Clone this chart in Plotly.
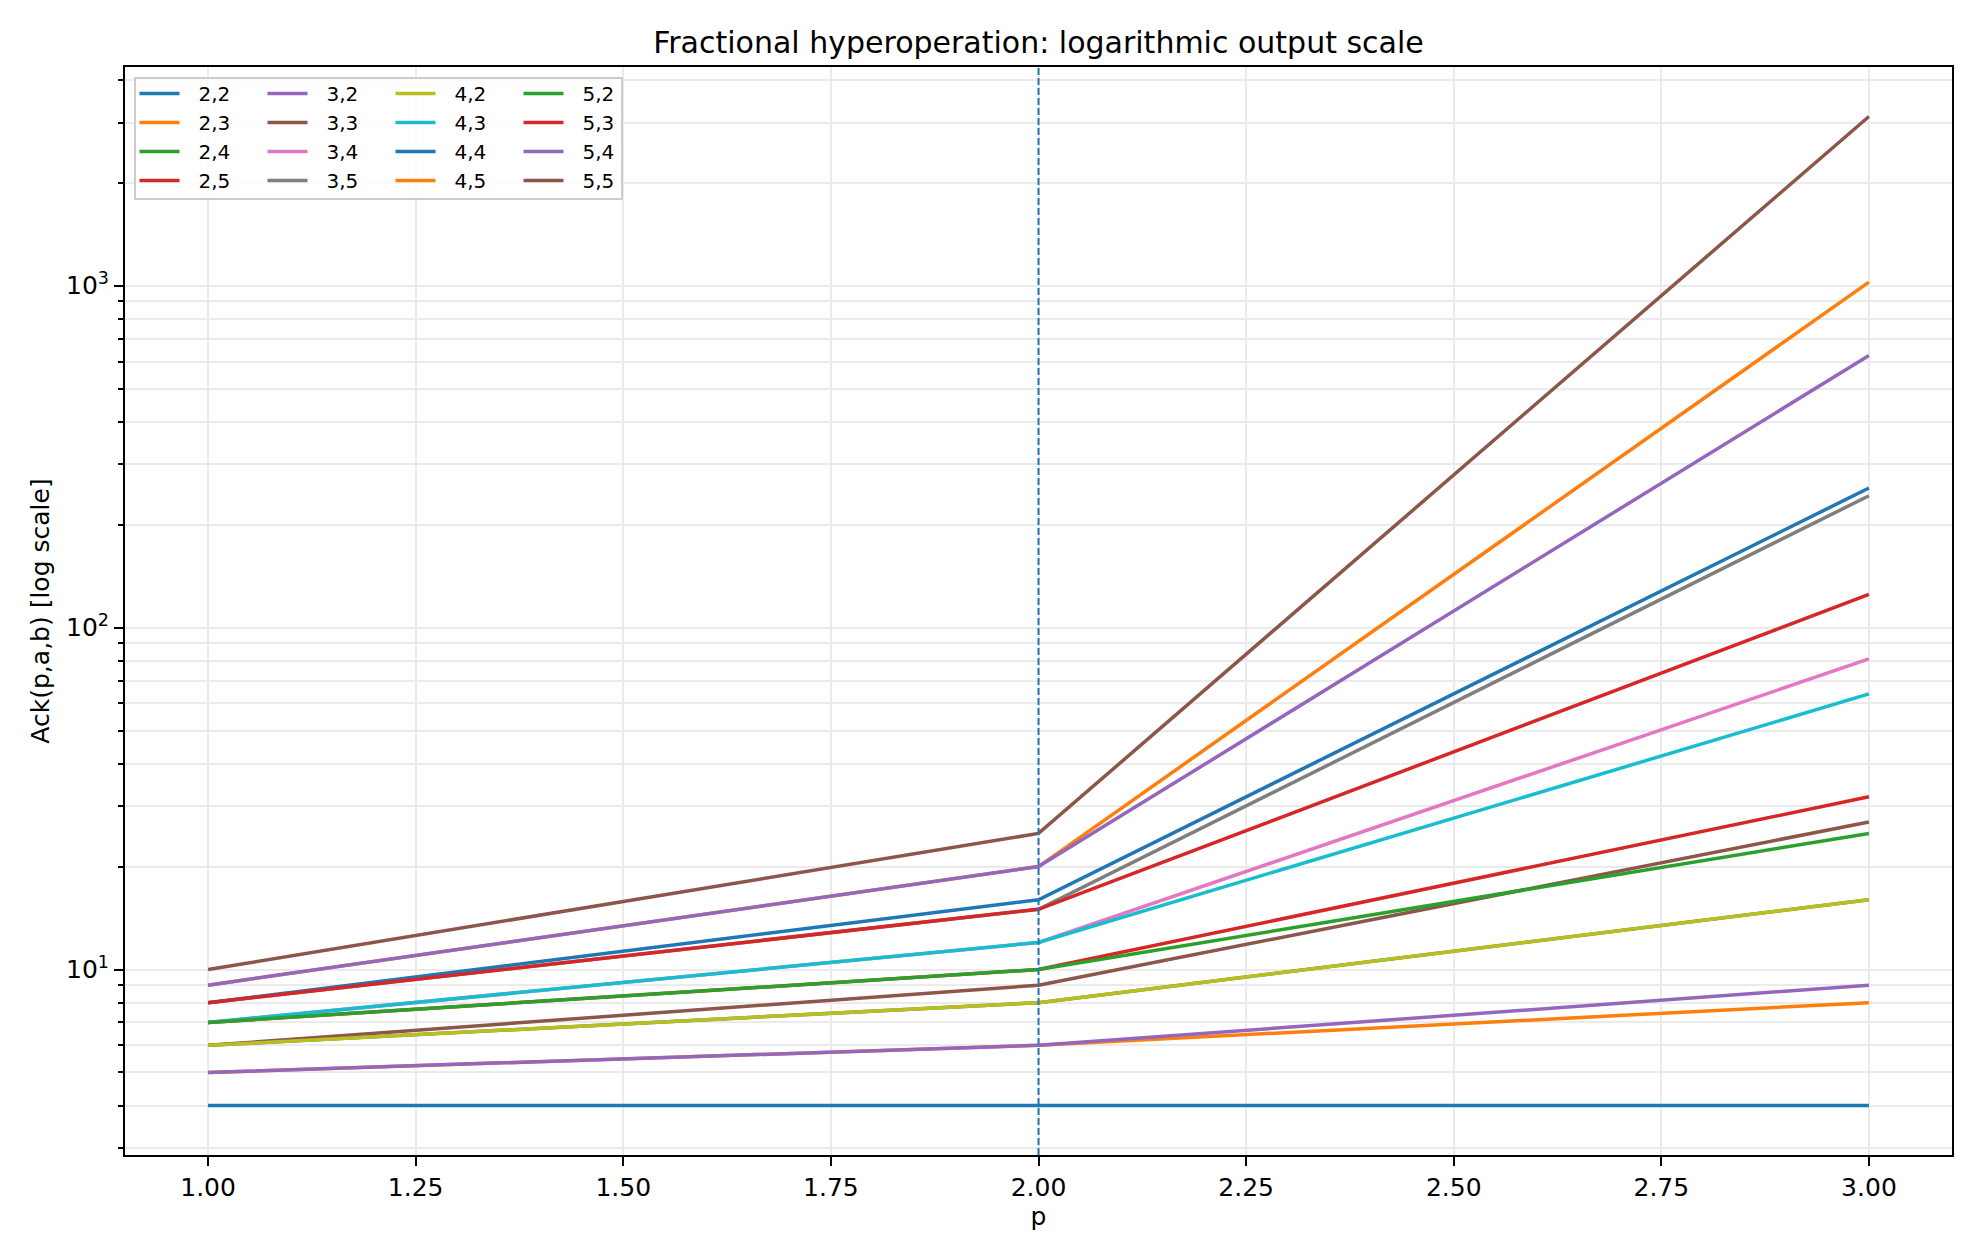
import plotly.graph_objects as go

# Ack(p, a, b) sampled at p = 1 (a+b), p = 2 (a*b), p = 3 (a^b)
p_values = [1.0, 2.0, 3.0]
pair_labels = ['2,2', '2,3', '2,4', '2,5',
               '3,2', '3,3', '3,4', '3,5',
               '4,2', '4,3', '4,4', '4,5',
               '5,2', '5,3', '5,4', '5,5']
add_values = [4, 5, 6, 7, 5, 6, 7, 8, 6, 7, 8, 9, 7, 8, 9, 10]
mul_values = [4, 6, 8, 10, 6, 9, 12, 15, 8, 12, 16, 20, 10, 15, 20, 25]
pow_values = [4, 8, 16, 32, 9, 27, 81, 243, 16, 64, 256, 1024, 25, 125, 625, 3125]
minor_ticks = [3, 4, 5, 6, 7, 8, 9, 20, 30, 40, 50, 60, 70, 80, 90,
               200, 300, 400, 500, 600, 700, 800, 900, 2000, 3000, 4000]

# matplotlib tab10 cycle
tab10 = ['#1f77b4', '#ff7f0e', '#2ca02c', '#d62728', '#9467bd',
         '#8c564b', '#e377c2', '#7f7f7f', '#bcbd22', '#17becf']

# page body has an 8px margin, so the figure is drawn 8px in from the window edge
OFF = 8
W, H = 1980 - 2 * OFF, 1260 - 2 * OFF
M_L, M_R, M_T, M_B = 125 - OFF, 20, 67 - OFF, 97
plot_w = W - M_L - M_R
plot_h = H - M_T - M_B
FONT = 'DejaVu Sans'
GRID = '#ebebeb'


def px_x(px):
    return (px - M_L) / plot_w


def px_y(py):
    return 1 - (py - M_T) / plot_h


legend_names = ['legend', 'legend2', 'legend3', 'legend4']

fig = go.Figure()
for i, label in enumerate(pair_labels):
    fig.add_trace(go.Scatter(
        x=p_values,
        y=[add_values[i], mul_values[i], pow_values[i]],
        mode='lines',
        name='\u2002\u2009' + label,  # widen gap between handle and text
        line=dict(color=tab10[i % 10], width=3.5),
        legend=legend_names[i // 4],
    ))

# dashed marker at p = 2
fig.add_shape(type='line', xref='x', yref='paper', x0=2, x1=2, y0=0, y1=1,
              line=dict(color='#1f77b4', width=2, dash='7px,3px'), layer='above')

# legend frame (4 column legends sit on top of it)
fig.add_shape(type='rect', xref='paper', yref='paper',
              x0=px_x(127), x1=px_x(614), y0=px_y(191), y1=px_y(70),
              fillcolor='rgba(255,255,255,0.8)',
              line=dict(color='#cccccc', width=2), layer='above')

legend_style = dict(
    bgcolor='rgba(0,0,0,0)', borderwidth=0,
    font=dict(family=FONT, size=20, color='black'),
    orientation='v', xanchor='left', yanchor='top',
    itemwidth=40, tracegroupgap=0,
)
layout_legends = {}
for c, name in enumerate(legend_names):
    layout_legends[name] = dict(legend_style, x=px_x(126.5 + 128 * c), y=px_y(66))

fig.update_layout(
    width=W, height=H,
    margin=dict(l=M_L, r=M_R, t=M_T, b=M_B),
    paper_bgcolor='white', plot_bgcolor='white',
    font=dict(family=FONT, size=20, color='black'),
    title=dict(text='Fractional hyperoperation: logarithmic output scale',
               x=(M_L + plot_w / 2) / W, xanchor='center',
               y=1 - 34 / H, yanchor='middle',
               font=dict(family=FONT, size=30, color='black')),
    showlegend=True,
    **layout_legends,
)

fig.update_xaxes(
    range=[0.9, 3.1], tickmode='linear', tick0=1, dtick=0.25, tickformat='.2f',
    ticks='outside', ticklen=9, tickwidth=2, tickcolor='black',
    tickfont=dict(family=FONT, size=25, color='black'),
    showgrid=True, gridcolor=GRID, gridwidth=1.5, zeroline=False,
    showline=True, linecolor='black', linewidth=2, mirror=True,
    title=dict(text='p', font=dict(family=FONT, size=25, color='black'), standoff=6),
)
fig.update_yaxes(
    type='log', range=[0.4575, 3.6395],
    tickmode='array', tickvals=[10, 100, 1000],
    ticktext=['10<sup>1</sup>', '10<sup>2</sup>', '10<sup>3</sup>'],
    ticks='outside', ticklen=9, tickwidth=2, tickcolor='black',
    tickfont=dict(family=FONT, size=25, color='black'),
    showgrid=True, gridcolor=GRID, gridwidth=1.5, zeroline=False,
    showline=True, linecolor='black', linewidth=2, mirror=True,
    minor=dict(tickmode='array', tickvals=minor_ticks, ticks='outside', ticklen=5,
               tickwidth=2, tickcolor='black', showgrid=True, gridcolor=GRID, gridwidth=1.5),
    title=dict(text='Ack(p,a,b) [log scale]', font=dict(family=FONT, size=25, color='black'),
               standoff=9),
)

fig.write_html('out.html')
